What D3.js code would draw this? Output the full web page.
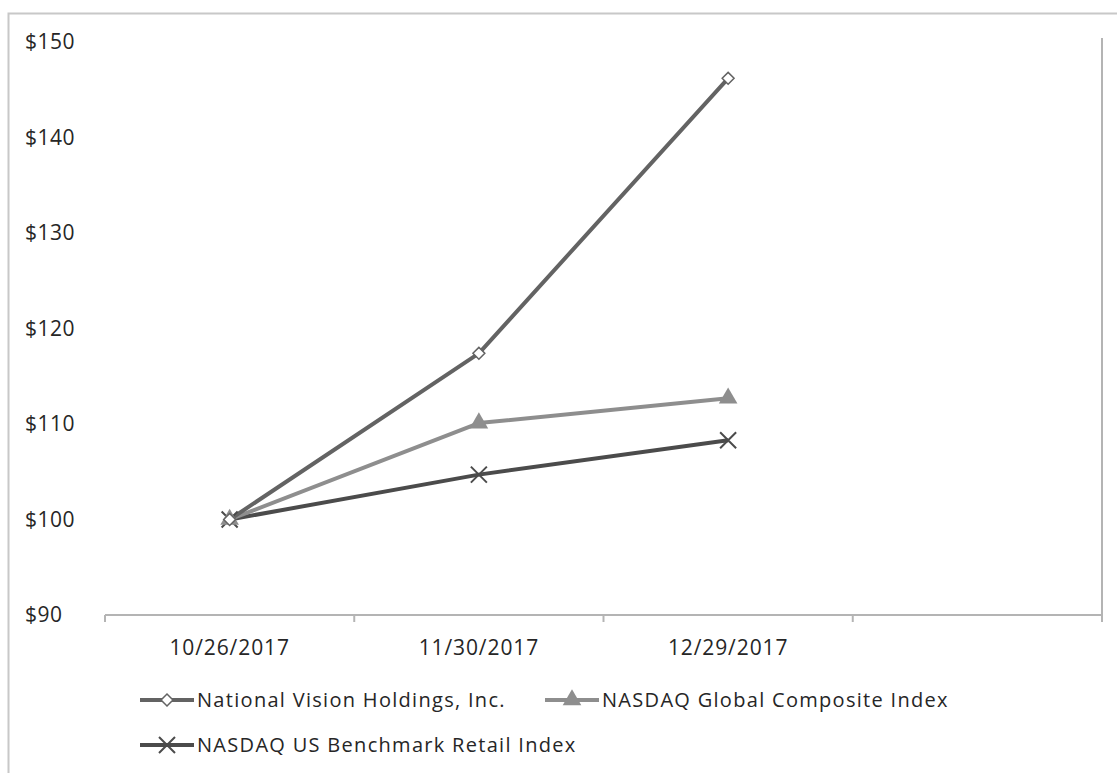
<!DOCTYPE html>
<html>
<head>
<meta charset="utf-8">
<script src="https://cdn.jsdelivr.net/npm/d3@7"></script>
<style>
  body { margin: 0; background: #fff; }
  svg text { font-family: "Open Sans", sans-serif; fill: #262626; }
</style>
</head>
<body>
<div id="chart"></div>
<script>
const dates = ['10/26/2017', '11/30/2017', '12/29/2017', ''];
const yTicks = [90, 100, 110, 120, 130, 140, 150];
const nvh = [100, 117.4, 146.2];
const globalComp = [100, 110.1, 112.7];
const retail = [100, 104.7, 108.3];

const series = [
  { name: 'National Vision Holdings, Inc.', values: nvh, color: '#636363', marker: 'diamond' },
  { name: 'NASDAQ Global Composite Index', values: globalComp, color: '#8e8e8e', marker: 'triangle' },
  { name: 'NASDAQ US Benchmark Retail Index', values: retail, color: '#4b4b4b', marker: 'cross' }
];

const width = 1117, height = 773;
const margin = { top: 42, right: 15, bottom: 158, left: 105 };

const svg = d3.select('#chart').append('svg')
  .attr('width', width)
  .attr('height', height);

// outer frame
svg.append('path')
  .attr('d', `M8.5,${height}V13.5H${width}`)
  .attr('fill', 'none')
  .attr('stroke', '#c8c8c8')
  .attr('stroke-width', 2);

const x = d3.scaleBand()
  .domain(d3.range(dates.length))
  .range([margin.left, width - margin.right]);

const y = d3.scaleLinear()
  .domain([90, 150])
  .range([height - margin.bottom, margin.top]);

// right edge line
svg.append('line')
  .attr('x1', width - margin.right).attr('x2', width - margin.right)
  .attr('y1', 38).attr('y2', y(90) + 7)
  .attr('stroke', '#b4b4b4').attr('stroke-width', 2);

// y tick labels
svg.append('g')
  .selectAll('text')
  .data(yTicks)
  .join('text')
  .attr('x', 25)
  .attr('y', d => y(d))
  .attr('dy', '0.35em')
  .style('font-size', '21px')
  .style('letter-spacing', '0.5px')
  .text(d => '$' + d);

// x axis
const xAxis = svg.append('g')
  .attr('transform', `translate(0,${y(90)})`);
xAxis.append('line')
  .attr('x1', margin.left).attr('x2', width - margin.right)
  .attr('stroke', '#b4b4b4').attr('stroke-width', 2);
xAxis.selectAll('.tick')
  .data(d3.range(dates.length + 1))
  .join('line')
  .attr('x1', i => i < dates.length ? x(i) : x(dates.length - 1) + x.bandwidth())
  .attr('x2', i => i < dates.length ? x(i) : x(dates.length - 1) + x.bandwidth())
  .attr('y1', 0).attr('y2', 7)
  .attr('stroke', '#b4b4b4').attr('stroke-width', 2);
xAxis.selectAll('text')
  .data(dates)
  .join('text')
  .attr('x', (d, i) => x(i) + x.bandwidth() / 2)
  .attr('y', 40)
  .attr('text-anchor', 'middle')
  .style('font-size', '21px')
  .style('letter-spacing', '0.9px')
  .text(d => d);

const cx = i => x(i) + x.bandwidth() / 2;

const line = d3.line()
  .x((d, i) => cx(i))
  .y(d => y(d));

function drawMarker(g, type, color) {
  if (type === 'diamond') {
    g.append('path')
      .attr('d', d3.symbol(d3.symbolDiamond2, 90)())
      .attr('fill', '#fff')
      .attr('stroke', color)
      .attr('stroke-width', 1.5);
  } else if (type === 'triangle') {
    g.append('path')
      .attr('d', d3.symbol(d3.symbolTriangle, 150)())
      .attr('fill', color);
  } else {
    g.append('path')
      .attr('d', 'M-8,-8L8,8M-8,8L8,-8')
      .attr('stroke', color)
      .attr('stroke-width', 2);
  }
}

// draw lines bottom-up so NVH is on top
series.slice().reverse().forEach(s => {
  svg.append('path')
    .datum(s.values)
    .attr('fill', 'none')
    .attr('stroke', s.color)
    .attr('stroke-width', 4)
    .attr('stroke-linejoin', 'round')
    .attr('d', line);
});
series.slice().reverse().forEach(s => {
  s.values.forEach((v, i) => {
    const g = svg.append('g').attr('transform', `translate(${cx(i)},${y(v)})`);
    drawMarker(g, s.marker, s.color);
  });
});

// legend
const legendPos = [[140, 700], [545, 700], [140, 745]];
series.forEach((s, i) => {
  const [lx, ly] = legendPos[i];
  const g = svg.append('g').attr('transform', `translate(${lx},${ly})`);
  g.append('line')
    .attr('x1', 0).attr('x2', 54)
    .attr('stroke', s.color).attr('stroke-width', 4);
  const m = g.append('g').attr('transform', 'translate(27,0)');
  drawMarker(m, s.marker, s.color);
  g.append('text')
    .attr('x', 57)
    .attr('dy', '0.35em')
    .style('font-size', '20px')
    .style('letter-spacing', '1.3px')
    .text(s.name);
});
</script>
</body>
</html>
